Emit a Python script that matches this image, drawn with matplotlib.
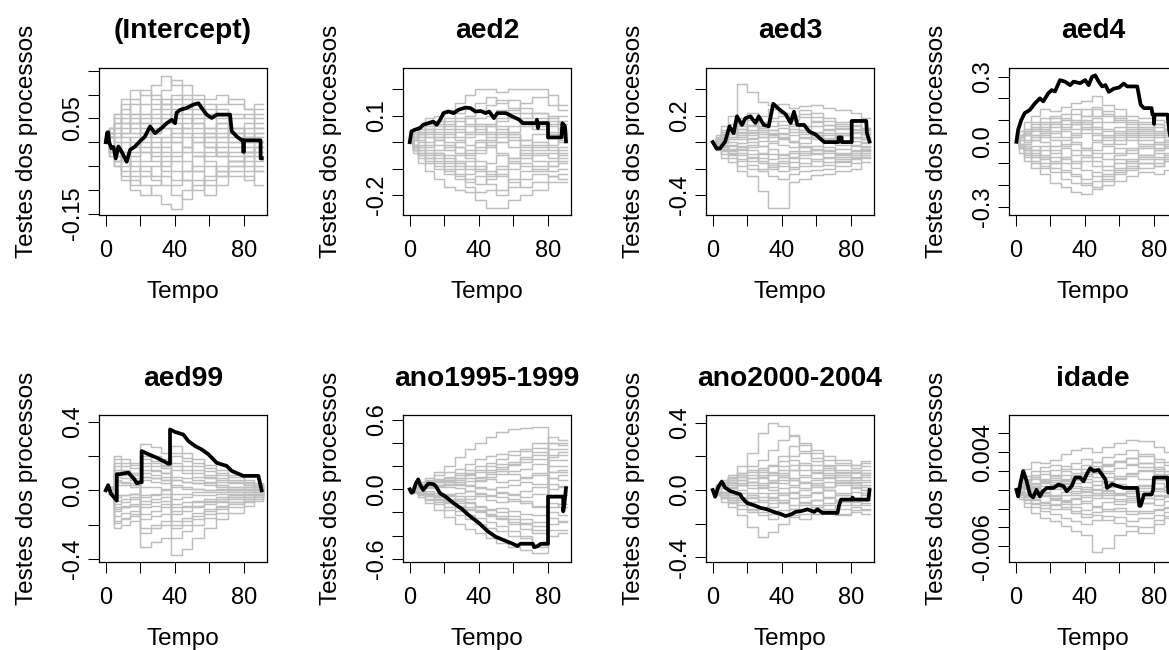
import matplotlib
matplotlib.use("Agg")
import matplotlib.pyplot as plt
import matplotlib.transforms as mtransforms
import numpy as np

plt.rcParams['font.family'] = ['Liberation Sans', 'DejaVu Sans']

# ---- data -------------------------------------------------------------
titles = ["(Intercept)", "aed2", "aed3", "aed4",
          "aed99", "ano1995-1999", "ano2000-2004", "idade"]

# values below are in hundredths (idade in 1e-4)
unit = [0.01, 0.01, 0.01, 0.01, 0.01, 0.01, 0.01, 0.0001]

# shared time grid of the simulated (grey) processes
grey_time = [0, 2, 5, 9, 14, 20, 26, 32, 38, 44, 50, 57, 64, 71, 80, 86, 91]

grey_intercept = [
    [0, 3, 6, 9, 11, 10, 12, 14, 12, 9, 8, 6, 7, 5, 6, 8, 8],
    [0, -2, -5, -6, -8, -9, -11, -13, -14, -10, -8, -11, -9, -6, -7, -9, -9],
    [0, 2, 4, 7, 9, 6, 8, 11, 13, 12, 10, 9, 10, 8, 7, 5, 5],
    [0, -3, -4, -3, -5, -6, -8, -9, -11, -12, -9, -7, -5, -4, -5, -6, -6],
    [0, 1, 3, 2, 4, 6, 5, 7, 8, 6, 4, 3, 1, 2, 3, 4, 4],
    [0, -1, -2, 0, 1, -2, -3, -5, -4, -6, -5, -3, -2, -3, -2, -4, -4],
    [0, 3, 5, 4, 2, 3, 1, 0, 2, 4, 5, 3, 4, 6, 5, 3, 3],
    [0, -2, -1, -3, -6, -4, -2, 1, 3, 2, 0, -1, -3, -1, 0, 1, 1],
    [0, 2, 1, 5, 8, 11, 9, 6, 4, 1, -2, -4, -6, -5, -3, -2, -2],
    [0, -1, -4, -7, -9, -7, -5, -2, 0, 3, 6, 8, 5, 3, 1, 0, 0],
    [0, 1, 2, 1, -1, 0, 2, 4, 6, 8, 7, 5, 3, 2, 4, 6, 6],
    [0, -2, -3, -5, -4, -2, 0, -1, -3, -1, 2, 0, -2, -4, -6, -3, -3],
    [0, 1, -1, -3, -2, 1, 3, 5, 7, 5, 3, 1, -1, 0, 2, 3, 3],
    [0, -1, 1, 3, 5, 4, 6, 3, 1, -1, -3, -2, 0, 1, -1, -2, -2],
    [0, 2, 4, 6, 4, 2, -1, -3, -6, -8, -6, -5, -7, -4, -2, -1, -1],
    [0, -2, -3, -2, 0, 2, 4, 8, 10, 7, 4, 2, 4, 2, 0, 2, 2],
    [0, 1, 0, 2, 3, 5, 7, 9, 5, 3, 1, -1, -3, -2, -4, -5, -5],
    [0, -1, -2, -4, -7, -5, -7, -4, -2, -4, -6, -9, -7, -5, -3, -1, -1],
    [0, 3, 6, 8, 6, 8, 10, 8, 9, 10, 9, 7, 8, 9, 7, 7, 7],
    [0, -3, -5, -8, -10, -11, -9, -7, -8, -6, -3, 1, 2, 0, -2, 0, 0],
    [0, 2, 3, 4, 6, 4, 2, 3, 0, -2, 0, 2, 1, 3, 1, 2, 2],
    [0, -2, -4, -2, -3, -1, -4, -6, -9, -8, -10, -8, -6, -7, -8, -6, -6],
]
grey_aed2 = [
    [0, 4, 6, 9, 10, 12, 15, 18, 20, 20, 19, 20, 20, 20, 14, 12, 12],
    [0, -4, -8, -11, -14, -17, -18, -19, -22, -25, -25, -22, -20, -18, -15, -15, -15],
    [0, 3, 5, 7, 6, 9, 11, 13, 15, 17, 15, 16, 13, 11, 9, 10, 10],
    [0, -3, -5, -8, -10, -12, -14, -17, -19, -18, -20, -17, -14, -12, -13, -12, -12],
    [0, 2, 3, 2, 4, 6, 4, 7, 9, 10, 12, 9, 7, 5, 6, 3, 3],
    [0, -1, -3, -4, -6, -5, -8, -10, -7, -11, -13, -10, -8, -9, -7, -5, -5],
    [0, 1, 4, 5, 3, 2, 5, 3, 6, 4, 2, 4, 6, 8, 10, 7, 7],
    [0, -2, 0, 2, -1, -3, -2, -5, -3, -1, -4, -6, -4, -2, -3, -6, -6],
    [0, 3, 2, 4, 7, 8, 6, 9, 5, 2, 0, -2, -5, -7, -9, -8, -8],
    [0, -2, -4, -3, -5, -8, -10, -7, -4, 0, 3, 6, 9, 11, 8, 5, 5],
    [0, 1, -1, -2, 1, 3, 1, -1, 1, 3, 6, 3, 1, -1, 2, 0, 0],
    [0, -3, -6, -7, -9, -11, -13, -15, -13, -16, -18, -14, -11, -10, -11, -10, -10],
    [0, 1, 2, 4, 2, 0, -2, -4, -2, 1, 4, 2, -1, -3, -1, 1, 1],
    [0, -1, -2, 0, 2, 4, 2, 4, 7, 6, 9, 12, 15, 17, 18, 14, 14],
    [0, 2, 4, 3, 1, -1, -4, -6, -9, -12, -10, -8, -6, -4, -6, -3, -3],
    [0, -2, -3, -5, -4, -7, -5, -3, 0, -2, 0, 3, 1, 3, 4, 2, 2],
    [0, 3, 4, 6, 8, 5, 8, 10, 12, 14, 16, 13, 11, 9, 7, 8, 8],
    [0, -2, -5, -6, -8, -10, -12, -14, -16, -14, -12, -15, -17, -15, -13, -14, -14],
    [0, 1, 1, -1, -3, -2, 0, 2, 3, 6, 8, 11, 8, 6, 3, 4, 4],
    [0, -1, -4, -6, -4, -6, -9, -12, -10, -8, -5, -7, -9, -11, -9, -7, -7],
    [0, 2, 3, 5, 5, 7, 9, 6, 4, 7, 5, 1, -2, 0, -2, -4, -4],
    [0, -3, -2, -4, -7, -9, -7, -9, -11, -13, -9, -6, -3, -5, -4, -2, -2],
]
grey_aed3 = [
    [0, 5, 12, 20, 44, 38, 30, 28, 29, 26, 27, 28, 26, 24, 22, 18, 18],
    [0, -6, -12, -15, -22, -26, -37, -50, -50, -30, -28, -25, -24, -22, -20, -15, -15],
    [0, 4, 9, 14, 18, 22, 20, 25, 22, 20, 24, 22, 18, 15, 12, 10, 10],
    [0, -4, -9, -12, -18, -20, -22, -26, -28, -24, -22, -21, -20, -18, -16, -12, -12],
    [0, 3, 6, 10, 8, 12, 15, 12, 16, 14, 12, 15, 13, 10, 8, 6, 6],
    [0, -2, -5, -8, -10, -14, -12, -16, -18, -15, -12, -14, -11, -9, -10, -8, -8],
    [0, 2, 4, 2, 5, 3, 6, 9, 11, 8, 6, 4, 7, 5, 3, 4, 4],
    [0, -3, -2, -5, -3, -6, -8, -5, -9, -11, -8, -6, -4, -5, -3, -4, -4],
    [0, 1, 3, 6, 10, 7, 4, 1, -2, -4, -1, 2, 0, -2, 1, -1, -1],
    [0, -1, -4, -7, -5, -2, 1, 4, 7, 10, 8, 5, 3, 1, -2, 0, 0],
    [0, 3, 8, 11, 14, 17, 9, 6, 3, 0, -3, -6, -8, -10, -7, -5, -5],
    [0, -2, -1, 0, -4, -9, -14, -20, -16, -12, -7, -3, 2, 5, 7, 2, 2],
    [0, 2, 5, 8, 12, 9, 12, 16, 13, 17, 19, 16, 13, 11, 13, 9, 9],
    [0, -2, -6, -9, -13, -17, -20, -17, -22, -19, -16, -18, -15, -13, -11, -10, -10],
    [0, 1, 2, 4, 7, 5, 8, 5, 2, 5, 3, 7, 10, 12, 10, 8, 8],
    [0, -1, -3, -2, -6, -4, -3, -9, -12, -8, -4, -8, -12, -14, -12, -7, -7],
    [0, 3, 6, 8, 10, 13, 11, 18, 20, 17, 21, 19, 16, 14, 15, 11, 11],
    [0, -3, -7, -10, -14, -11, -16, -19, -14, -20, -18, -13, -17, -15, -13, -11, -11],
    [0, 2, 1, 4, 2, 0, -3, -1, 3, 1, 4, 8, 5, 7, 4, 2, 2],
    [0, -2, -4, -3, -1, 2, 4, 7, 4, 0, -4, -9, -6, -8, -6, -3, -3],
    [0, 1, 4, 6, 4, 8, 12, 9, 6, 12, 9, 12, 9, 7, 9, 6, 6],
    [0, -1, -2, -6, -8, -12, -9, -13, -10, -7, -10, -5, -7, -11, -8, -6, -6],
]
grey_aed4 = [
    [0, 5, 9, 12, 15, 14, 16, 18, 19, 21, 17, 15, 12, 11, 10, 9, 9],
    [0, -5, -9, -12, -15, -19, -21, -23, -24, -22, -20, -18, -16, -14, -15, -13, -13],
    [0, 3, 6, 9, 11, 12, 10, 13, 15, 12, 14, 11, 9, 8, 7, 6, 6],
    [0, -3, -6, -9, -11, -14, -17, -19, -20, -18, -15, -13, -11, -12, -10, -9, -9],
    [0, 2, 4, 5, 7, 9, 6, 8, 10, 7, 5, 7, 5, 3, 4, 2, 2],
    [0, -2, -4, -6, -8, -7, -10, -12, -9, -11, -13, -10, -8, -6, -7, -5, -5],
    [0, 1, 3, 1, 4, 2, 5, 3, 6, 4, 2, 4, 6, 4, 2, 3, 3],
    [0, -1, -2, -4, -2, -5, -3, -6, -4, -7, -5, -3, -5, -2, -4, -2, -2],
    [0, 3, 5, 8, 6, 4, 2, 0, -3, -5, -8, -6, -4, -3, -1, 0, 0],
    [0, -2, -5, -7, -4, -2, 1, 4, 7, 9, 6, 3, 1, -1, -3, -1, -1],
    [0, 2, 1, 3, 5, 8, 11, 9, 6, 3, 1, -1, 2, 5, 3, 1, 1],
    [0, -3, -7, -10, -12, -10, -7, -4, -6, -9, -11, -8, -10, -8, -11, -7, -7],
    [0, 1, 3, 6, 9, 7, 10, 8, 12, 15, 12, 9, 7, 9, 8, 6, 6],
    [0, -1, -3, -5, -7, -10, -13, -15, -17, -14, -16, -14, -12, -10, -8, -9, -9],
    [0, 2, 5, 7, 5, 9, 7, 10, 8, 11, 9, 12, 10, 7, 5, 4, 4],
    [0, -2, -3, -2, -6, -9, -7, -9, -13, -16, -18, -15, -13, -10, -11, -8, -8],
    [0, 3, 4, 3, 2, 5, 8, 6, 9, 6, 3, 1, 3, 1, 0, 1, 1],
    [0, -3, -5, -4, -7, -4, -8, -10, -7, -4, -2, -5, -3, -6, -4, -3, -3],
    [0, 2, 3, 6, 8, 11, 13, 15, 12, 16, 13, 10, 8, 6, 8, 5, 5],
    [0, -1, -4, -7, -10, -12, -14, -16, -19, -21, -17, -12, -9, -7, -5, -6, -6],
    [0, 1, 0, 2, 0, -2, -1, 2, 4, 1, -1, 2, 4, 2, -1, -2, -2],
    [0, -2, -1, 1, 3, 1, -2, -1, -3, 0, 2, 5, 3, 6, 4, 3, 3],
]
grey_aed99 = [
    [0, 2, 20, 18, 16, 27, 25, 22, 26, 22, 18, 15, 12, 9, 6, 4, 2],
    [0, -2, -22, -20, -18, -33, -30, -28, -38, -34, -28, -22, -17, -13, -9, -6, -3],
    [0, 1, 14, 12, 10, 20, 17, 15, 20, 17, 14, 11, 9, 6, 4, 3, 1],
    [0, -1, -15, -13, -12, -25, -22, -20, -28, -24, -20, -16, -13, -10, -7, -5, -2],
    [0, 2, 10, 9, 7, -3, -2, 0, 12, 10, 8, 7, 5, 4, 3, 2, 1],
    [0, -1, -8, -7, -5, 8, 7, 6, -5, -4, -3, -3, -2, -2, -1, -1, 0],
    [0, 1, 5, 4, 3, 14, 12, 10, 3, 2, 1, 0, 0, -1, -1, 0, 0],
    [0, -2, -4, -3, -2, -14, -12, -10, 2, 1, 1, 0, 1, 0, 0, -1, 0],
    [0, 1, 18, 16, 15, 6, 5, 4, -10, -9, -7, -6, -5, -4, -3, -2, -1],
    [0, -1, -18, -16, -14, -4, -3, -2, -18, -16, -13, -11, -9, -7, -5, -3, -1],
    [0, 2, 6, 5, 4, 22, 20, 18, 8, 7, 6, 5, 3, 2, 2, 1, 0],
    [0, -2, -12, -10, -9, -22, -20, -18, -8, -7, -6, -5, -4, -3, -2, -2, -1],
    [0, 1, 12, 11, 10, 16, 14, 13, 6, 5, 4, 4, 3, 2, 1, 1, 0],
    [0, -1, -11, -10, -9, -17, -15, -14, -22, -20, -17, -14, -11, -8, -6, -4, -2],
    [0, 2, 16, 14, 13, 8, 7, 6, 16, 14, 12, 9, 7, 5, 4, 2, 1],
    [0, -2, -6, -5, -4, -10, -9, -8, -14, -12, -10, -8, -7, -5, -4, -3, -1],
    [0, 1, 8, 7, 6, 18, 16, 14, 22, 19, 16, 13, 10, 8, 5, 3, 1],
    [0, -1, -19, -17, -15, -6, -5, -4, 6, 5, 4, 3, 2, 1, 1, 0, 0],
    [0, 2, 3, 3, 2, 10, 9, 8, -2, -2, -1, -1, -1, 0, 0, 0, 0],
    [0, -2, -10, -9, -8, 2, 2, 1, -12, -10, -9, -7, -6, -4, -3, -2, -1],
    [0, 1, 12, 10, 9, -8, -7, -6, -20, -18, -15, -12, -10, -7, -5, -3, -1],
    [0, -1, -3, -3, -2, 12, 11, 10, 14, 12, 10, 8, 6, 5, 3, 2, 1],
]
grey_ano1995 = [
    [0, 3, 6, 10, 15, 20, 28, 35, 40, 45, 50, 52, 53, 54, 40, 40, 40],
    [0, -3, -7, -12, -18, -24, -30, -34, -38, -42, -46, -50, -52, -55, -35, -35, -35],
    [0, 2, 5, 8, 12, 15, 18, 22, 26, 29, 31, 33, 35, 40, 30, 32, 32],
    [0, -2, -5, -9, -13, -18, -22, -26, -30, -33, -36, -40, -42, -48, -25, -27, -27],
    [0, 1, 3, 6, 8, 10, 12, 14, 17, 20, 22, 24, 26, 30, 15, 15, 15],
    [0, -1, -3, -6, -9, -12, -15, -18, -20, -23, -25, -28, -30, -35, -5, -5, -5],
    [0, 2, 1, 4, 6, 5, 8, 10, 8, 11, 13, 16, 18, 22, 45, 43, 43],
    [0, -2, -1, -3, -5, -8, -10, -12, -15, -18, -16, -19, -21, -22, 25, 25, 25],
    [0, 1, 2, 3, 2, 4, 6, 4, 7, 9, 6, 8, 10, 12, -15, -13, -13],
    [0, -1, -2, -1, -3, -4, -6, -8, -6, -9, -11, -8, -10, -14, 35, 35, 35],
    [0, 2, 4, 5, 7, 8, 5, 3, 1, 0, 2, 4, 6, 5, 20, 20, 20],
    [0, -1, -4, -8, -11, -15, -19, -22, -25, -28, -32, -36, -40, -50, 5, 3, 3],
    [0, 1, 2, 4, 6, 8, 10, 12, 15, 17, 19, 21, 24, 26, 10, 12, 12],
    [0, -1, -3, -5, -8, -11, -14, -17, -19, -22, -26, -30, -34, -38, -12, -15, -15],
    [0, 2, 3, 1, 3, 6, 4, 7, 10, 13, 16, 13, 11, 14, -30, -28, -28],
    [0, -2, -4, -3, -6, -5, -8, -6, -4, -6, -3, -5, -7, -4, 28, 30, 30],
    [0, 1, 3, 5, 4, 7, 10, 13, 11, 15, 18, 22, 28, 32, 0, 2, 2],
    [0, -1, -2, -5, -7, -10, -8, -11, -14, -17, -20, -23, -26, -28, -40, -38, -38],
    [0, 2, 4, 7, 9, 11, 14, 17, 20, 23, 26, 30, 33, 36, 10, 8, 8],
    [0, -2, -3, -6, -8, -6, -3, -1, 2, 0, -2, -4, -1, 2, 40, 38, 38],
    [0, 1, 0, 2, 4, 2, 1, -1, -3, -5, -7, -10, -12, -15, 15, 17, 17],
    [0, -1, -2, -4, -6, -9, -12, -15, -18, -21, -23, -26, -29, -32, -20, -22, -22],
]
grey_ano2000 = [
    [0, 3, 6, 9, 14, 22, 34, 40, 38, 33, 28, 22, 18, 16, 15, 17, 17],
    [0, -3, -7, -10, -15, -22, -28, -25, -20, -16, -14, -12, -13, -14, -12, -11, -11],
    [0, 2, 5, 8, 10, 14, 18, 24, 30, 32, 27, 24, 20, 18, 15, 14, 14],
    [0, -2, -5, -8, -11, -13, -15, -14, -12, -15, -17, -14, -12, -15, -13, -14, -14],
    [0, 1, 4, 6, 8, 11, 13, 15, 17, 20, 22, 19, 15, 12, 10, 12, 12],
    [0, -1, -3, -5, -7, -9, -11, -8, -6, -9, -7, -10, -8, -6, -9, -8, -8],
    [0, 2, 3, 5, 4, 7, 9, 6, 10, 12, 9, 7, 10, 8, 6, 9, 9],
    [0, -2, -1, -3, -2, -4, -2, -5, -3, -1, -4, -2, -5, -3, -1, -3, -3],
    [0, 3, 5, 4, 6, 3, 1, 4, 6, 3, 1, 4, 2, 5, 3, 2, 2],
    [0, -1, 1, 2, 0, -2, 2, 5, 8, 12, 16, 12, 9, 6, 4, 5, 5],
    [0, 2, 4, 7, 10, 12, 8, 10, 14, 18, 15, 11, 13, 10, 12, 10, 10],
    [0, -2, -3, -6, -9, -12, -10, -6, -2, 2, 5, 3, 0, -2, 1, 0, 0],
    [0, 1, 2, 4, 3, 5, 7, 5, 8, 6, 4, 6, 8, 5, 7, 6, 6],
    [0, -1, -2, -4, -6, -5, -7, -10, -8, -11, -9, -6, -4, -7, -5, -6, -6],
    [0, 2, 4, 3, 6, 9, 12, 9, 12, 15, 12, 15, 12, 15, 13, 16, 16],
    [0, -2, -4, -6, -4, -7, -4, -2, 1, -2, 0, 3, 0, -3, -5, -2, -2],
    [0, 3, 2, 1, 3, 1, 4, 2, 4, 7, 5, 2, 5, 3, 5, 3, 3],
    [0, -1, -3, -2, -5, -3, -6, -4, -7, -5, -8, -6, -9, -11, -10, -12, -12],
    [0, 2, 5, 7, 9, 7, 11, 14, 20, 26, 23, 17, 14, 11, 8, 10, 10],
    [0, -2, -1, 1, 3, 5, 3, 0, -2, -5, -3, -1, 2, 4, 2, 0, 0],
    [0, 1, 3, 6, 8, 5, 8, 11, 9, 6, 8, 10, 7, 9, 11, 8, 8],
    [0, -3, -5, -7, -9, -11, -13, -17, -15, -11, -12, -9, -11, -9, -7, -9, -9],
]
grey_idade = [
    [0, 12, 22, 30, 28, 32, 38, 42, 44, 40, 46, 50, 53, 52, 45, 40, 40],
    [0, -10, -18, -25, -30, -33, -38, -44, -48, -66, -62, -48, -44, -40, -32, -28, -28],
    [0, 8, 15, 20, 24, 26, 22, 28, 33, 30, 35, 38, 42, 36, 33, 30, 30],
    [0, -8, -14, -18, -22, -26, -30, -33, -36, -32, -28, -35, -38, -46, -36, -30, -30],
    [0, 5, 10, 14, 12, 16, 20, 18, 22, 25, 20, 23, 26, 28, 22, 20, 20],
    [0, -5, -10, -14, -16, -20, -18, -22, -26, -24, -20, -23, -26, -22, -20, -18, -18],
    [0, 3, 6, 4, 8, 6, 10, 7, 12, 9, 14, 11, 15, 12, 10, 13, 13],
    [0, -3, -6, -8, -5, -9, -12, -10, -14, -17, -13, -15, -11, -14, -16, -12, -12],
    [0, 4, 2, 7, 4, 1, 4, 2, -2, 1, 3, 6, 2, 5, 7, 4, 4],
    [0, -2, -5, -3, -7, -10, -6, -3, 1, 5, 9, 13, 17, 20, 15, 10, 10],
    [0, 6, 12, 16, 20, 15, 9, 4, -1, -5, -9, -12, -9, -14, -10, -7, -7],
    [0, -4, -2, 2, -2, 3, 6, 10, 15, 18, 25, 31, 34, 28, 24, 20, 20],
    [0, 4, 8, 12, 9, 13, 16, 13, 17, 14, 18, 15, 18, 21, 17, 15, 15],
    [0, -4, -8, -11, -14, -11, -15, -18, -21, -18, -22, -19, -22, -25, -21, -19, -19],
    [0, 2, 5, 3, 7, 10, 7, 11, 8, 5, 8, 4, 1, 4, 1, 3, 3],
    [0, -2, -4, -6, -3, -6, -2, -5, -8, -5, -1, -4, -7, -4, -7, -5, -5],
    [0, 6, 10, 14, 17, 21, 25, 22, 26, 30, 27, 31, 34, 38, 30, 26, 26],
    [0, -6, -11, -15, -19, -15, -20, -25, -29, -27, -32, -29, -33, -30, -27, -24, -24],
    [0, 1, 3, 6, 10, 8, 12, 16, 19, 23, 26, 30, 27, 24, 20, 17, 17],
    [0, -1, 2, 0, -3, -7, -11, -15, -12, -9, -6, -10, -13, -9, -6, -8, -8],
    [0, 3, 1, -2, 1, 5, 2, -1, 3, 0, -3, -6, -3, -1, 2, 0, 0],
    [0, -3, -7, -10, -13, -16, -13, -9, -6, -3, 0, -3, -1, 2, -1, -2, -2],
]

# observed (black) processes, (time, value) vertices
obs_intercept = [(0, 0), (0.8, 2), (1.4, 2.1), (2, 0), (3.3, -1.3), (4.5, -1), (5.8, -3.4),
                 (7.3, -0.9), (9.2, -2), (12.1, -4.1), (14.1, -1.6), (16.9, -0.9), (19.8, 0.2),
                 (22.7, 1.2), (25.6, 3.3), (28.5, 1.9), (32.4, 3), (35.3, 4), (38.2, 4.7),
                 (40.1, 4), (41, 6.2), (43, 6.8), (46.8, 7.2), (50.7, 7.9), (53.6, 8.2),
                 (55.5, 7.2), (58.4, 5.8), (61.3, 5.1), (64.2, 5.8), (71.9, 5.8), (72.9, 2.3),
                 (75.8, 1.2), (78.7, 0.4), (79.5, 0.4), (79.5, -2), (80, -2), (80, 0.4),
                 (89.6, 0.4), (89.6, -3.4), (90.3, -3.4)]
obs_aed2 = [(0, 0), (0.5, 2), (1, 4.1), (2.9, 4.7), (5.9, 5.3), (7.8, 6.6), (10.7, 7.2),
            (13.6, 7.8), (15.6, 6.6), (17.6, 8.5), (19.5, 11), (22.4, 11.6), (25.4, 11),
            (28.3, 12.3), (32.2, 13.1), (35.1, 12.9), (38, 11.6), (41, 11.8), (43.9, 11),
            (46, 11.6), (48.7, 9.1), (50.7, 11), (55.6, 11), (59.5, 9.7), (63.4, 8.5),
            (65.4, 7.2), (73.1, 7.2), (73.6, 8.5), (74.2, 5.3), (74.6, 7.2), (80, 7.2),
            (80, 1.8), (87.8, 1.8), (88.3, 7.2), (89.8, 6), (90.4, 0.3)]
obs_aed3 = [(0, 0), (2.3, -5), (4.3, -4.7), (7.2, 0.5), (9.7, 11.9), (12.1, 6.8), (14, 19.5),
            (16.9, 13), (18.9, 18), (21.8, 19.5), (24.7, 14.5), (26.6, 19.5), (29.5, 13),
            (32.4, 12), (35, 29), (38.3, 25), (42.2, 21), (45.1, 14.5), (47, 23), (49, 13),
            (52.9, 13), (55.8, 8), (59.7, 5.6), (64.5, 0), (72.7, 0), (72.7, 3.5),
            (74.6, 3.5), (74.6, 0), (80.4, 0), (80.4, 16), (88.8, 16), (89.2, 6.8),
            (90.7, 0.5)]
obs_aed4 = [(0.4, 0), (1.4, 5.6), (3.3, 10.2), (5.2, 13.2), (8.2, 14.7), (11.1, 17.7), (14, 20),
            (15.9, 18.6), (18.8, 22.3), (20.8, 23.8), (22.7, 23.2), (25.6, 28.4), (28.5, 27.7),
            (31.5, 26.1), (33.4, 27.7), (37.3, 27), (40.2, 28.4), (42.2, 26.1), (44.1, 29.9),
            (46, 30.6), (48, 27.7), (50, 25.5), (51.9, 26.1), (53.8, 23), (56.8, 24.5),
            (59.8, 25), (62.5, 26.8), (64.5, 25.5), (70.3, 25.5), (72.3, 17), (74.2, 15.5),
            (78.6, 15.5), (79.1, 12.5), (80, 12.5), (80, 8.2), (80.3, 12.5), (87.8, 12.5),
            (88.8, 5), (90, 0)]
obs_aed99 = [(0, 0), (1.4, 3), (3, -2), (6.4, -6), (6.4, 9.4), (8, 9.4), (13.1, 10.3),
             (16.6, 6.4), (18, 4), (19.8, 4.7), (20.8, 4.7), (20.8, 22.9), (24.7, 21),
             (29.5, 19), (32.4, 17.5), (36.2, 15.5), (37.2, 15.5), (37.2, 35.5), (40.1, 34),
             (44.9, 32.5), (47.8, 28.7), (51.7, 25.8), (55.5, 23.8), (59.4, 21), (64.2, 16),
             (70, 14.2), (72.9, 11.3), (79.6, 8.4), (88.3, 8.4), (89.2, 4.5), (90.2, 0)]
obs_ano1995 = [(0, 0), (1, -3), (2, -2), (3.5, 5), (4.9, 8.6), (6, 4), (7.8, -0.5), (10.7, 5),
               (13.6, 4.5), (15, 3), (17.6, -3.5), (20.5, -6), (25.4, -12), (30.2, -17),
               (35.1, -23.5), (40, -29), (44.9, -36), (49.7, -41), (54.6, -44), (59.5, -47),
               (62.4, -49), (64, -47), (71.2, -47), (72, -50), (74, -49), (76, -47), (80, -47),
               (80, -6.3), (88.8, -6.3), (88.8, -19), (89.5, -12), (90.4, 1)]
obs_ano2000 = [(0, 0), (1.4, -4), (3.3, 2), (5.2, 5), (7.2, 1.4), (10.1, -0.6), (13, -1.6),
               (15.9, -2.6), (16.9, -4.5), (19.8, -7.7), (23.7, -9), (27.6, -10.6),
               (31.5, -11.5), (35.3, -13), (39.2, -14.2), (42.2, -15.5), (45.1, -14.6),
               (48, -13), (50.9, -12.6), (54.8, -11.5), (58.7, -13), (60.6, -11.5),
               (63.5, -13.6), (72.2, -13.6), (73.2, -8.7), (74.2, -5.7), (80.5, -5.7),
               (80.9, -4.5), (81.3, -5.7), (90.1, -5.7), (90.7, 0)]
obs_idade = [(0.4, 0), (1.4, -7), (2.7, 7), (4.3, 20), (6.2, 10), (8.2, -5), (10.1, -8), (12, 0),
             (14, -7), (15.5, -2), (17.9, 2), (21.8, 2), (24.7, 5.6), (27.6, 4), (29.5, -1.5),
             (32.4, 4), (34.4, 13), (37.3, 13), (39.2, 9), (41.2, 17), (43.1, 23), (45.1, 20),
             (48, 21), (50, 16), (51.9, 11), (52.8, 2), (55.8, 6), (58.7, 4), (62.5, 2),
             (70.3, 2), (71.5, -17), (72.3, -17), (74.2, -5), (78.6, -5), (79.5, 0), (80, 13),
             (87.8, 13), (88.3, -3), (90, -3)]

grey = [grey_intercept, grey_aed2, grey_aed3, grey_aed4,
        grey_aed99, grey_ano1995, grey_ano2000, grey_idade]
observed = [obs_intercept, obs_aed2, obs_aed3, obs_aed4,
            obs_aed99, obs_ano1995, obs_ano2000, obs_idade]

ylims = [(-0.153, 0.156), (-0.276, 0.281), (-0.552, 0.561), (-0.338, 0.340),
         (-0.418, 0.439), (-0.628, 0.643), (-0.428, 0.446), (-0.00767, 0.00795)]
yticks = [[-0.15, -0.10, -0.05, 0, 0.05, 0.10, 0.15],
          [-0.2, -0.1, 0, 0.1, 0.2],
          [-0.4, -0.2, 0, 0.2, 0.4],
          [-0.3, -0.2, -0.1, 0, 0.1, 0.2, 0.3],
          [-0.4, -0.2, 0, 0.2, 0.4],
          [-0.6, -0.4, -0.2, 0, 0.2, 0.4, 0.6],
          [-0.4, -0.2, 0, 0.2, 0.4],
          [-0.006, -0.004, -0.002, 0, 0.002, 0.004, 0.006]]
# only the labels R had room for
ylabels_shown = [{-0.15: "-0.15", 0.05: "0.05"},
                 {-0.2: "-0.2", 0.1: "0.1"},
                 {-0.4: "-0.4", 0.2: "0.2"},
                 {-0.3: "-0.3", 0: "0.0", 0.3: "0.3"},
                 {-0.4: "-0.4", 0: "0.0", 0.4: "0.4"},
                 {-0.6: "-0.6", 0: "0.0", 0.6: "0.6"},
                 {-0.4: "-0.4", 0: "0.0", 0.4: "0.4"},
                 {-0.006: "-0.006", 0.004: "0.004"}]
xticks = [0, 20, 40, 60, 80]
xlabels_shown = {0: "0", 40: "40", 80: "80"}

# ---- layout (pixels) ---------------------------------------------------
W, H, DPI = 1169, 650, 100
col_left = [99, 403, 706, 1009]
row_top = [68, 415]
box_w, box_h = 168, 147

fig = plt.figure(figsize=(W / DPI, H / DPI), dpi=DPI)
fig.patch.set_facecolor('white')

def px(x, y):
    return x / W, 1 - y / H

for i, name in enumerate(titles):
    r, c = divmod(i, 4)
    left, top = col_left[c], row_top[r]
    ax = fig.add_axes([left / W, 1 - (top + box_h) / H, box_w / W, box_h / H])

    sc = unit[i]
    for path in grey[i]:
        ax.step(grey_time, np.array(path) * sc, where='post', color='#BEBEBE', lw=1.05)
    t, v = zip(*observed[i])
    ax.plot(t, np.array(v) * sc, color='black', lw=2.7, solid_joinstyle='round')

    ax.set_xlim(-3.9, 93.3)
    ax.set_ylim(*ylims[i])
    ax.set_xticks(xticks)
    ax.set_yticks(yticks[i])
    ax.set_xticklabels([])
    ax.set_yticklabels([])
    ax.tick_params(length=7.9, width=0.75, direction='out', color='black')
    for s in ax.spines.values():
        s.set_linewidth(0.9)
        s.set_color('black')

    xt = mtransforms.blended_transform_factory(ax.transData, ax.transAxes) + \
        mtransforms.ScaledTranslation(0, -41.7 / DPI, fig.dpi_scale_trans)
    for val, lab in xlabels_shown.items():
        ax.text(val, 0, lab, transform=xt, ha='center', va='baseline', fontsize=17, clip_on=False)
    yt = mtransforms.blended_transform_factory(ax.transAxes, ax.transData) + \
        mtransforms.ScaledTranslation(-20 / DPI, 0, fig.dpi_scale_trans)
    for val, lab in ylabels_shown[i].items():
        ax.text(0, val, lab, transform=yt, rotation=90, rotation_mode='anchor',
                ha='center', va='baseline', fontsize=17, clip_on=False)

    cx = left + box_w / 2
    fig.text(*px(cx, top - 29.5), name, ha='center', va='baseline',
             fontsize=20.3, fontweight='bold')
    fig.text(*px(cx, top + box_h + 83), "Tempo", ha='center', va='baseline', fontsize=17.5)
    fig.text(*px(left - 66, top + box_h / 2), "Testes dos processos", rotation=90,
             rotation_mode='anchor', ha='center', va='baseline', fontsize=17.5)

fig.savefig("out.png", dpi=DPI)
